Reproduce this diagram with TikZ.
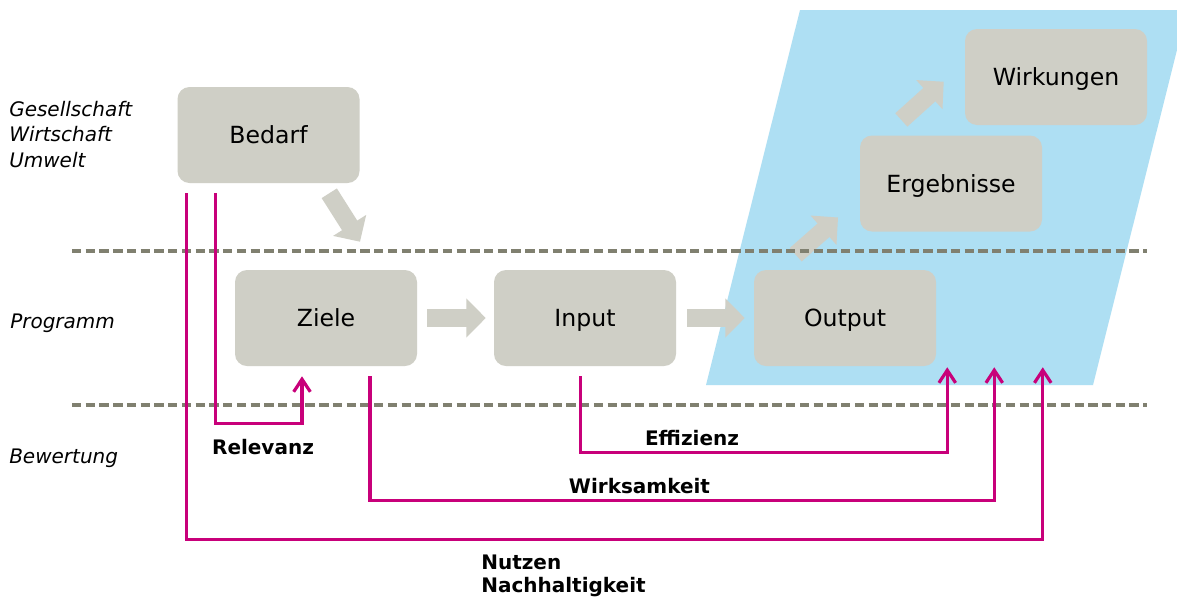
\documentclass[tikz,border=0pt]{standalone}
\usepackage{fontspec}
\setmainfont{DejaVu Sans}
\usetikzlibrary{arrows.meta}
\definecolor{boxgray}{RGB}{207,207,198}
\definecolor{skyblue}{RGB}{174,223,243}
\definecolor{dashgray}{RGB}{128,128,112}
\definecolor{evalmag}{RGB}{200,0,122}

\begin{document}
\begin{tikzpicture}[x=0.75pt,y=-0.75pt,
  stage/.style={fill=boxgray, rounded corners=9pt, minimum width=136.5pt,
    minimum height=72pt, inner sep=0pt, text height=12.9pt, text depth=0pt,
    font=\fontsize{17.7}{21}\selectfont},
  level/.style={font=\fontsize{15}{19}\selectfont\itshape, inner sep=0pt},
  criterion/.style={font=\fontsize{15}{16.8}\selectfont\bfseries, inner sep=0pt},
  flow/.style={draw=boxgray, line width=13.5pt,
    -{Triangle[length=14.5pt,width=28.5pt]}},
  evalline/.style={draw=evalmag, line width=2.4pt,
    -{Straight Barb[length=9.5pt,width=12.5pt]}},
  divider/.style={draw=dashgray, line width=2.4pt, dash pattern=on 7pt off 3.3pt},
]
\useasboundingbox (0,0) rectangle (1177,597);
\fill[white] (0,0) rectangle (1177,597);

% area of outputs, results and impacts
\begin{scope}
  \clip (0,0) rectangle (1177,597);
  \fill[skyblue] (800,10) -- (1187,10) -- (1093,385) -- (706,385) -- cycle;
\end{scope}

% level labels
\node[level, align=left, anchor=north west] (society) at (9,101)
  {Gesellschaft\\Wirtschaft\\Umwelt};
\node[level, anchor=base west] (programme) at (10,328.5) {Programm};
\node[level, anchor=base west] (assessment) at (9,463.5) {Bewertung};

% stages
\node[stage] (bedarf) at (268.5,135) {Bedarf};
\node[stage] (ziele) at (326,318) {Ziele};
\node[stage] (input) at (585,318) {Input};
\node[stage] (output) at (845,318) {Output};
\node[stage] (ergebnisse) at (951,183.5) {Ergebnisse};
\node[stage] (wirkungen) at (1056,77) {Wirkungen};

% flow between the stages
\draw[flow] ([shift={(-30.5,10)}]bedarf.south east) -- ([shift={(34,-28)}]ziele.north);
\draw[flow] ([shift={(10,0)}]ziele.east) -- ([shift={(-8,0)}]input.west);
\draw[flow] ([shift={(11,0)}]input.east) -- ([shift={(-9,0)}]output.west);
\draw[flow] ([shift={(-49.3,-15)}]output.north) -- ([shift={(-21.7,-14.3)}]ergebnisse.south west);
\draw[flow] ([shift={(-49.7,-15.3)}]ergebnisse.north) -- ([shift={(-21,4.7)}]wirkungen.west);

% level dividers
\draw[divider] (72,251) -- (1147,251);
\draw[divider] (72,405) -- (1147,405);

% assessment criteria
\coordinate (effTip) at ([shift={(11,1)}]output.south east);
\coordinate (wirTip) at ([shift={(58,1)}]output.south east);
\coordinate (nutTip) at ([shift={(106.5,1)}]output.south east);

\draw[evalline] ([shift={(-53,10)}]bedarf.south) |- ([shift={(-24,57)}]ziele.south)
  -- ([shift={(-24,10)}]ziele.south);
\draw[evalline] ([shift={(-4.5,10)}]input.south) |- ([shift={(0,85.5)}]effTip) -- (effTip);
\draw[evalline] ([shift={(44,10)}]ziele.south) |- ([shift={(0,133.5)}]wirTip) -- (wirTip);
\draw[evalline] ([shift={(9,10)}]bedarf.south west) |- ([shift={(0,172.5)}]nutTip) -- (nutTip);

\node[criterion] (relevanz) at (263,447) {Relevanz};
\node[criterion] (effizienz) at (692,438) {Effizienz};
\node[criterion] (wirksamkeit) at (639.5,486) {Wirksamkeit};
\node[criterion, align=left, anchor=north west] (nutzen) at (481,555)
  {Nutzen\\Nachhaltigkeit};
\end{tikzpicture}
\end{document}
